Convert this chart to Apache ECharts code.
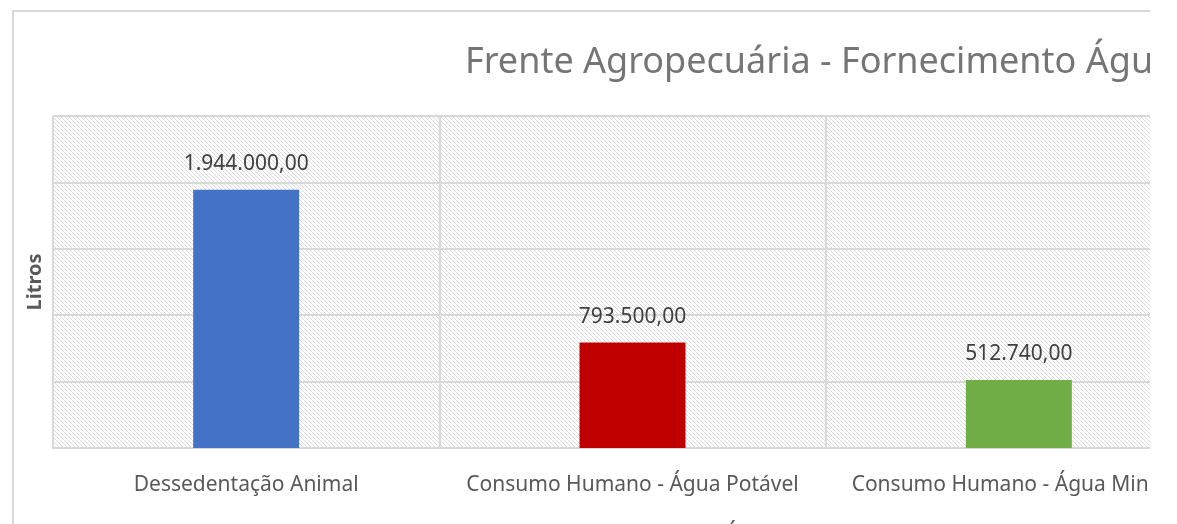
<!DOCTYPE html>
<html lang="pt">
<head>
    <meta charset="UTF-8">
    <title>Frente Agropecuária - Fornecimento Água</title>
    <style>
        html, body { margin: 0; padding: 0; background: #fff; overflow: hidden; }
        #frame {
            position: absolute; left: 0; top: 0;
            width: 1150px; height: 524px; overflow: hidden;
        }
        #border {
            position: absolute; left: 12px; top: 10px;
            width: 1200px; height: 600px;
            border-top: 2px solid #d9d9d9; border-left: 2px solid #d9d9d9;
        }
        #main { position: absolute; left: 0; top: 0; width: 1240px; height: 560px; }
    </style>
</head>
<body>
    <div id="frame">
        <div id="border"></div>
        <div id="main"></div>
    </div>

    <script src="https://cdn.jsdelivr.net/npm/echarts@6/dist/echarts.min.js"></script>
    <script type="text/javascript">
        var titulo = 'Frente Agropecuária - Fornecimento Água';
        var categorias = ['Dessedentação Animal', 'Consumo Humano - Água Potável', 'Consumo Humano - Água Mineral'];
        var litros = [1944000, 793500, 512740];
        var cores = ['#4472c4', '#c00000', '#70ad47'];
        var eixoY = { min: 0, max: 2500000, interval: 500000 };

        // numero no formato brasileiro: 1.944.000,00
        function formatoBR(v) {
            var partes = v.toFixed(2).split('.');
            partes[0] = partes[0].replace(/\B(?=(\d{3})+(?!\d))/g, '.');
            return partes[0] + ',' + partes[1];
        }

        // fundo hachurado (diagonal para baixo)
        var hachura = document.createElement('canvas');
        hachura.width = 4;
        hachura.height = 4;
        var ctx = hachura.getContext('2d');
        ctx.fillStyle = '#ffffff';
        ctx.fillRect(0, 0, 4, 4);
        ctx.fillStyle = '#dadada';
        for (var i = 0; i < 4; i++) {
            ctx.fillRect(i, i, 1, 1);
        }

        var series = [];
        for (var k = 0; k < categorias.length; k++) {
            var dados = [];
            for (var j = 0; j < categorias.length; j++) {
                dados.push(j === k ? litros[k] : '-');
            }
            series.push({
                name: categorias[k],
                type: 'bar',
                barWidth: 106,
                barGap: '-100%',
                itemStyle: { color: cores[k] },
                label: {
                    show: true,
                    position: 'top',
                    distance: 15,
                    color: '#404040',
                    fontSize: 21,
                    fontFamily: 'Noto Sans',
                    formatter: function (p) { return formatoBR(p.value); }
                },
                data: dados
            });
        }

        var myChart = echarts.init(document.getElementById('main'));
        var option = {
            animation: false,
            title: {
                text: titulo,
                left: 460,
                top: 40,
                textStyle: {
                    color: '#757575',
                    fontSize: 36,
                    fontWeight: 'normal',
                    fontFamily: 'Noto Sans'
                }
            },
            legend: {
                left: 140,
                top: 520,
                itemWidth: 10,
                itemHeight: 10,
                itemGap: 122,
                icon: 'rect',
                textStyle: { color: '#595959', fontSize: 21, fontFamily: 'Noto Sans' },
                data: categorias
            },
            grid: {
                left: 53,
                top: 116,
                width: 1159,
                height: 332,
                show: true,
                backgroundColor: { image: hachura, repeat: 'repeat' },
                borderColor: '#d9d9d9',
                borderWidth: 1
            },
            xAxis: {
                type: 'category',
                data: categorias,
                axisTick: { show: false },
                axisLine: { lineStyle: { color: '#d9d9d9', width: 2 } },
                splitLine: { show: true, interval: 0, lineStyle: { color: '#d9d9d9', width: 2 } },
                axisLabel: {
                    interval: 0,
                    margin: 27,
                    color: '#595959',
                    fontSize: 21,
                    fontFamily: 'Noto Sans'
                }
            },
            yAxis: {
                type: 'value',
                min: eixoY.min,
                max: eixoY.max,
                interval: eixoY.interval,
                name: 'Litros',
                nameLocation: 'middle',
                nameRotate: 90,
                nameGap: 8,
                nameTextStyle: { color: '#595959', fontSize: 20, fontWeight: 'bold', fontFamily: 'Noto Sans' },
                axisLabel: { show: false },
                axisLine: { show: false },
                axisTick: { show: false },
                splitLine: { lineStyle: { color: '#d9d9d9', width: 2 } }
            },
            series: series
        };
        myChart.setOption(option);
    </script>
</body>
</html>
